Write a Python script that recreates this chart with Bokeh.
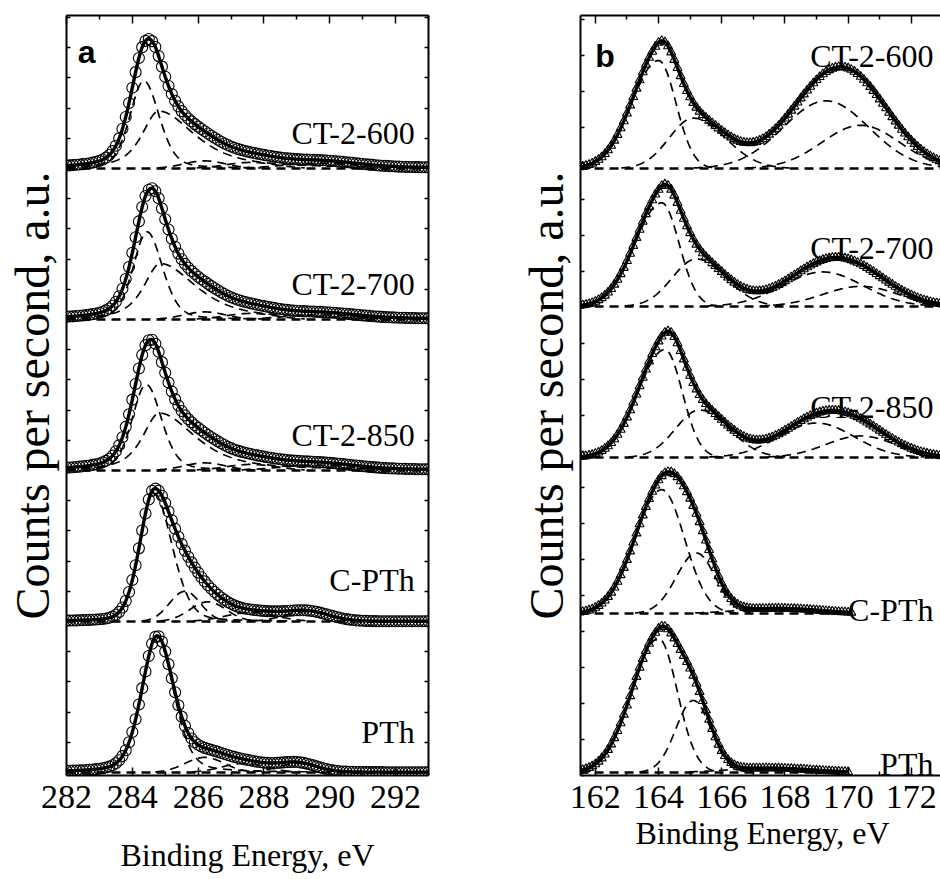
import numpy as np
from bokeh.plotting import figure
from bokeh.models import Range1d, FixedTicker, LinearAxis
from bokeh.layouts import row
from bokeh.embed import file_html
from bokeh.resources import INLINE
from bokeh.core.properties import value

SERIF = "Liberation Serif"
SANS = "Liberation Sans"

# ---------------- Panel a : C 1s (peak parameters) ----------------
A_NAMES = ["CT-2-600", "CT-2-700", "CT-2-850", "C-PTh", "PTh"]
A_OFFSETS = [4.0, 3.0, 2.0, 1.0, 0.0]
A_XMIN = [282.0, 282.0, 282.0, 282.0, 282.0]
A_XMAX = [293.0, 293.0, 293.0, 293.0, 293.0]
A_CENTERS = [
    [284.35, 284.80, 286.2, 287.6, 289.7],
    [284.45, 284.85, 286.2, 287.6, 289.7],
    [284.42, 284.82, 286.2, 287.6, 289.6],
    [284.65, 285.60, 286.3, 287.6, 289.3],
    [284.75, 286.20, 287.4, 289.0],
]
A_HEIGHTS = [
    [0.58, 0.38, 0.05, 0.04, 0.035],
    [0.58, 0.37, 0.05, 0.04, 0.030],
    [0.57, 0.38, 0.05, 0.04, 0.035],
    [0.85, 0.20, 0.13, 0.06, 0.065],
    [0.90, 0.10, 0.06, 0.06],
]
A_WL = [
    [1.0, 1.2, 1.5, 1.8, 2.6],
    [1.0, 1.2, 1.5, 1.8, 2.6],
    [1.0, 1.2, 1.5, 1.8, 2.6],
    [1.0, 1.1, 1.3, 1.8, 1.6],
    [1.1, 1.4, 1.6, 1.4],
]
A_WR = [
    [1.1, 2.6, 1.5, 1.8, 2.6],
    [1.1, 2.6, 1.5, 1.8, 2.6],
    [1.1, 2.6, 1.5, 1.8, 2.6],
    [1.3, 1.1, 1.3, 1.8, 1.6],
    [1.2, 1.4, 1.6, 1.4],
]
A_ETA = [
    [0.3, 0.7, 0.0, 0.0, 0.0],
    [0.3, 0.7, 0.0, 0.0, 0.0],
    [0.3, 0.7, 0.0, 0.0, 0.0],
    [0.2, 0.0, 0.0, 0.0, 0.0],
    [0.3, 0.0, 0.0, 0.0],
]
A_LABEL_X = 292.58
A_LABEL_Y = [4.232, 3.238, 2.232, 1.272, 0.265]
A_XTICKS = [282, 284, 286, 288, 290, 292]
A_XMINOR = [283, 285, 287, 289, 291, 293]
A_YTICKS = [0.0, 0.2, 0.4, 0.6, 0.8, 1.0, 1.2, 1.4, 1.6, 1.8, 2.0, 2.2, 2.4, 2.6,
            2.8, 3.0, 3.2, 3.4, 3.6, 3.8, 4.0, 4.2, 4.4, 4.6, 4.8, 5.0]

# ---------------- Panel b : S 2p ----------------
B_NAMES = ["CT-2-600", "CT-2-700", "CT-2-850", "C-PTh", "PTh"]
B_OFFSETS = [4.215, 3.257, 2.208, 1.125, 0.021]
B_XMIN = [161.5, 161.5, 161.5, 161.5, 161.5]
B_XMAX = [173.1, 173.1, 173.1, 170.1, 170.0]
B_CENTERS = [
    [164.0, 165.1, 169.3, 170.4],
    [164.1, 165.2, 169.2, 170.4],
    [164.2, 165.3, 169.0, 170.4],
    [164.1, 165.2, 167.8],
    [164.0, 165.1, 167.5],
]
B_HEIGHTS = [
    [0.75, 0.35, 0.47, 0.30],
    [0.72, 0.33, 0.24, 0.14],
    [0.75, 0.33, 0.24, 0.15],
    [0.86, 0.42, 0.035],
    [0.93, 0.50, 0.03],
]
B_WL = [
    [2.0, 1.8, 3.2, 2.9],
    [2.0, 1.8, 3.0, 2.8],
    [2.0, 1.8, 2.8, 2.6],
    [2.0, 1.5, 3.0],
    [2.0, 1.3, 3.0],
]
B_WR = [
    [1.3, 2.4, 3.2, 2.9],
    [1.3, 2.2, 3.0, 2.8],
    [1.3, 2.2, 2.8, 2.6],
    [1.7, 1.4, 3.0],
    [1.4, 1.3, 3.0],
]
B_ETA = [
    [0.0, 0.0, 0.0, 0.0],
    [0.0, 0.0, 0.0, 0.0],
    [0.0, 0.0, 0.0, 0.0],
    [0.0, 0.0, 0.0],
    [0.0, 0.0, 0.0],
]
B_LABEL_X = 172.70
B_LABEL_Y = [5.0, 3.66, 2.5625, 1.146, 0.083]
B_XTICKS = [162, 164, 166, 168, 170, 172]
B_XMINOR = [163, 165, 167, 169, 171, 173]
B_YTICKS = [0.0, 0.25, 0.5, 0.75, 1.0, 1.25, 1.5, 1.75, 2.0, 2.25, 2.5, 2.75, 3.0,
            3.25, 3.5, 3.75, 4.0, 4.25, 4.5, 4.75, 5.0, 5.25]

H = 879
FRAME_TOP = 15
FRAME_H = 760


def peak(x, c, h, wl, wr, eta):
    w = np.where(x < c, wl, wr)
    u = (x - c) / w
    g = np.exp(-4.0 * np.log(2.0) * u ** 2)
    lor = 1.0 / (1.0 + 4.0 * u ** 2)
    return h * ((1.0 - eta) * g + eta * lor)


def style_axis(ax, ticks, minor, labels, tick_in, minor_in):
    ax.ticker = FixedTicker(ticks=ticks, minor_ticks=minor)
    ax.axis_line_width = 2
    ax.axis_line_color = "black"
    ax.major_tick_in = tick_in
    ax.major_tick_out = 0
    ax.minor_tick_in = minor_in
    ax.minor_tick_out = 0
    ax.major_tick_line_width = 1.5
    ax.minor_tick_line_width = 1.5
    ax.major_tick_line_color = "black"
    ax.minor_tick_line_color = "black"
    ax.major_label_text_font = SERIF
    ax.major_label_text_color = "black"
    if labels:
        ax.major_label_text_font_size = "34px"
        ax.major_label_standoff = 10
    else:
        ax.major_label_text_font_size = "0px"
        ax.major_label_standoff = 0
    ax.axis_label_text_font = SERIF
    ax.axis_label_text_font_style = "normal"
    ax.axis_label_text_color = "black"


def make_panel(width, xr, yr, mbl, mbr, xticks, xminor, yticks, right_axis, xlab_standoff):
    p = figure(width=width, height=H, x_range=Range1d(*xr), y_range=Range1d(*yr),
               output_backend="svg", toolbar_location=None,
               min_border_left=mbl, min_border_right=mbr,
               min_border_top=FRAME_TOP, min_border_bottom=H - FRAME_TOP - FRAME_H)
    p.xgrid.visible = False
    p.ygrid.visible = False
    p.outline_line_color = None
    p.background_fill_color = "white"
    p.border_fill_color = "white"
    style_axis(p.xaxis[0], xticks, xminor, True, 8, 4)
    p.xaxis[0].axis_label = "Binding Energy, eV"
    p.xaxis[0].axis_label_text_font_size = "32px"
    p.xaxis[0].axis_label_standoff = xlab_standoff
    style_axis(p.yaxis[0], yticks, [], False, 4, 0)
    p.yaxis[0].axis_label = "Counts per second, a.u."
    p.yaxis[0].axis_label_text_font_size = "48px"
    p.yaxis[0].axis_label_standoff = 8
    top = LinearAxis()
    style_axis(top, xticks, xminor, False, 8, 4)
    p.add_layout(top, "above")
    if right_axis:
        rt = LinearAxis()
        style_axis(rt, yticks, [], False, 4, 0)
        p.add_layout(rt, "right")
    return p


def draw(p, names, offsets, xmin, xmax, centers, heights, wl, wr, eta, marker, msize,
         lab_x, lab_y):
    for i in range(len(names)):
        off = offsets[i]
        xl = np.arange(xmin[i], xmax[i] + 1e-9, 0.02)
        xm = np.arange(xmin[i], xmax[i] + 1e-9, 0.1)
        env_l = np.zeros_like(xl)
        env_m = np.zeros_like(xm)
        comps = []
        for c, h, a, b, e in zip(centers[i], heights[i], wl[i], wr[i], eta[i]):
            cl = peak(xl, c, h, a, b, e)
            env_l += cl
            env_m += peak(xm, c, h, a, b, e)
            mask = cl > 0.004
            comps.append((xl[mask], off + cl[mask]))
        p.scatter(xm, off + env_m, marker=marker, size=msize, fill_color=None,
                  line_color="black", line_width=1.1)
        for cx, cy in comps:
            p.line(cx, cy, line_color="black", line_width=1.7, line_dash="9 6")
        p.line([xmin[i], xmax[i]], [off, off], line_color="black", line_width=2.4,
               line_dash="9 6")
        p.line(xl, off + env_l, line_color="black", line_width=3.4)
        p.text(x=[lab_x], y=[lab_y[i]], text=[names[i]], text_font=value(SERIF),
               text_font_size="32px", text_align="right", text_baseline="alphabetic",
               text_color="black")


pa = make_panel(508, (282.0, 293.0), (-0.02, 5.013), 66, 80, A_XTICKS, A_XMINOR,
                A_YTICKS, True, 26)
draw(pa, A_NAMES, A_OFFSETS, A_XMIN, A_XMAX, A_CENTERS, A_HEIGHTS, A_WL, A_WR, A_ETA,
     "circle", 11, A_LABEL_X, A_LABEL_Y)
pa.text(x=[282.34], y=[4.77], text=["a"], text_font=value(SANS), text_font_size="32px",
        text_font_style="bold", text_align="left", text_baseline="alphabetic",
        text_color="black")

pb = make_panel(440, (161.53, 173.05), (0.0, 5.278), 72, 4, B_XTICKS, B_XMINOR,
                B_YTICKS, False, 4)
draw(pb, B_NAMES, B_OFFSETS, B_XMIN, B_XMAX, B_CENTERS, B_HEIGHTS, B_WL, B_WR, B_ETA,
     "triangle", 9, B_LABEL_X, B_LABEL_Y)
pb.text(x=[162.0], y=[5.0], text=["b"], text_font=value(SANS), text_font_size="32px",
        text_font_style="bold", text_align="left", text_baseline="alphabetic",
        text_color="black")

layout = row(pa, pb)
html = file_html(layout, INLINE)
html = html.replace("<head>", "<head><style>html,body{overflow:hidden;}</style>", 1)
open("out.html", "w").write(html)
